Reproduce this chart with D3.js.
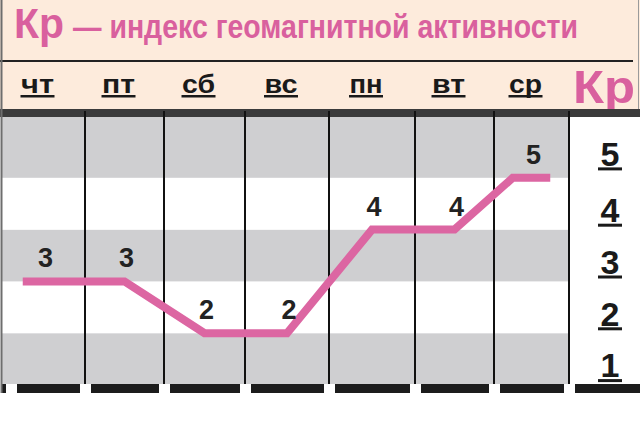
<!DOCTYPE html>
<html>
<head>
<meta charset="utf-8">
<script src="https://cdn.jsdelivr.net/npm/d3@7"></script>
<style>
  body { margin: 0; background: #fff; }
  svg { display: block; }
  text { font-family: "Liberation Sans", Arial, sans-serif; font-weight: bold; }
</style>
</head>
<body>
<div id="chart"></div>
<script>
// data
const days = ['чт', 'пт', 'сб', 'вс', 'пн', 'вт', 'ср'];
const kp = [3, 3, 2, 2, 4, 4, 5];
const levels = [1, 2, 3, 4, 5];
const titleMain = 'Кр';
const titleRest = '— индекс геомагнитной активности';

const width = 640, height = 424;
const pink = '#d9609e', lineColor = '#dc66a2', band = '#cfcfd1', peach = '#fdebdc';

const svg = d3.select('#chart').append('svg')
    .attr('width', width)
    .attr('height', height);

// column edges are hand drawn in the original, so piecewise scale
const x = d3.scaleLinear()
    .domain(d3.range(days.length + 1))
    .range([2, 85, 164, 245, 329, 415, 494, 569]);

const y = d3.scaleLinear()
    .domain([1, 6])
    .range([385, 126]);

const plotTop = 117, plotBottom = 385;
const topLevel = d3.max(levels);
const bandTop = d => d === topLevel ? plotTop : y(d + 1);

// header
svg.append('rect')
    .attr('x', 0).attr('y', 0)
    .attr('width', width).attr('height', 110)
    .attr('fill', peach);

svg.append('line')
    .attr('x1', 0).attr('x2', 633)
    .attr('y1', 61).attr('y2', 61)
    .attr('stroke', '#222').attr('stroke-width', 2);

svg.append('text')
    .attr('x', 14).attr('y', 38)
    .attr('font-size', 42)
    .attr('textLength', 50).attr('lengthAdjust', 'spacingAndGlyphs')
    .attr('fill', pink)
    .text(titleMain);

// condensed look: squeeze horizontally to the measured width
const rest = svg.append('text')
    .attr('font-size', 34)
    .attr('fill', pink)
    .text(titleRest);
const restW = rest.node().getComputedTextLength();
rest.attr('transform', `translate(73,38) scale(${505 / restW},1)`);

// day labels, underlined
const dayLabels = svg.append('g')
    .selectAll('g')
    .data(days)
    .enter()
    .append('g')
    .attr('transform', (d, i) => `translate(${(x(i) + x(i + 1)) / 2 - 6},93)`);

dayLabels.append('text')
    .attr('text-anchor', 'middle')
    .attr('font-size', 25)
    .attr('textLength', 33).attr('lengthAdjust', 'spacingAndGlyphs')
    .attr('fill', '#1a1a1a')
    .text(d => d);

dayLabels.append('rect')
    .attr('x', -17).attr('y', 2)
    .attr('width', 34).attr('height', 2.5)
    .attr('fill', '#1a1a1a');

svg.append('text')
    .attr('x', 573).attr('y', 103)
    .attr('font-size', 46)
    .attr('textLength', 62).attr('lengthAdjust', 'spacingAndGlyphs')
    .attr('fill', pink)
    .text(titleMain);

// plot background bands
svg.append('g')
    .selectAll('rect')
    .data(levels)
    .enter()
    .append('rect')
    .attr('x', x(0))
    .attr('y', d => bandTop(d))
    .attr('width', x(days.length) - x(0))
    .attr('height', d => y(d) - bandTop(d))
    .attr('fill', d => d % 2 ? band : '#fff');

// dark bar under header
svg.append('rect')
    .attr('x', 0).attr('y', 109)
    .attr('width', width).attr('height', 8)
    .attr('fill', '#3b3b3b');

// column lines
svg.append('g')
    .selectAll('line')
    .data(d3.range(1, days.length + 1))
    .enter()
    .append('line')
    .attr('x1', d => x(d)).attr('x2', d => x(d))
    .attr('y1', 111).attr('y2', plotBottom)
    .attr('stroke', '#111').attr('stroke-width', 2);

// bottom bar with gaps at the columns
svg.append('rect')
    .attr('x', 2).attr('y', 384)
    .attr('width', width - 2).attr('height', 9)
    .attr('fill', '#1c1c1c');

svg.append('g')
    .selectAll('rect')
    .data(d3.range(0, days.length + 1))
    .enter()
    .append('rect')
    .attr('x', d => x(d) - 5 + (d === 0 ? 9 : 0))
    .attr('y', 384)
    .attr('width', 11).attr('height', 9)
    .attr('fill', '#fff');

// left border
svg.append('line')
    .attr('x1', 1.5).attr('x2', 1.5)
    .attr('y1', 0).attr('y2', 393)
    .attr('stroke', '#6e6e6e').attr('stroke-width', 2);

svg.append('line')
    .attr('x1', 638.5).attr('x2', 638.5)
    .attr('y1', 0).attr('y2', 109)
    .attr('stroke', '#9a9a9a').attr('stroke-width', 1);

// right axis Kp levels
const axisLabels = svg.append('g')
    .selectAll('g')
    .data(levels)
    .enter()
    .append('g')
    .attr('transform', d => `translate(610,${(bandTop(d) + y(d)) / 2 + 6})`);

axisLabels.append('text')
    .attr('text-anchor', 'middle')
    .attr('dy', '0.36em')
    .attr('font-size', 34)
    .attr('fill', '#1a1a1a')
    .text(d => d);

axisLabels.append('rect')
    .attr('x', -12).attr('y', 14)
    .attr('width', 24).attr('height', 3)
    .attr('fill', '#1a1a1a');

// Kp line: interior days at column centres, end days get a flat cap
const cap = 0.25;
const last = days.length - 1;
const pts = [];
kp.forEach((v, i) => {
    if (i === 0 || i === last) {
        pts.push([i + 0.5 - cap, v], [i + 0.5 + cap, v]);
    } else {
        pts.push([i + 0.5, v]);
    }
});

const line = d3.line()
    .x(d => x(d[0]))
    .y(d => y(d[1]));

svg.append('path')
    .datum(pts)
    .attr('d', line)
    .attr('fill', 'none')
    .attr('stroke', lineColor)
    .attr('stroke-width', 8)
    .attr('stroke-linejoin', 'miter');

// value labels
svg.append('g')
    .selectAll('text')
    .data(kp)
    .enter()
    .append('text')
    .attr('x', (d, i) => (x(i) + x(i + 1)) / 2 + 2)
    .attr('y', d => y(d) - 14)
    .attr('text-anchor', 'middle')
    .attr('font-size', 27)
    .attr('fill', '#222')
    .text(d => d);
</script>
</body>
</html>
